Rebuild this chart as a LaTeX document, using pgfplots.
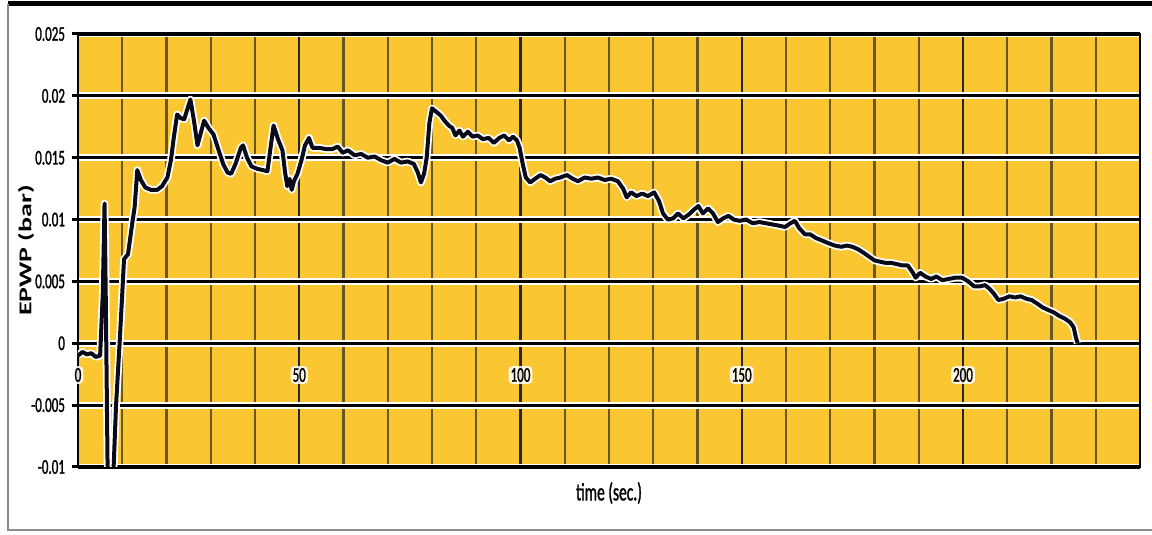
\documentclass[border=0pt]{standalone}
\usepackage{pgfplots}
\pgfplotsset{compat=1.18}
\usepackage{fontspec}
\setmainfont{Carlito}
\newfontfamily\narrow{Carlito}[FakeStretch=0.62, FakeBold=1.2]
\newfontfamily\ylab{Carlito}[FakeStretch=1.55]

\definecolor{yellowbg}{RGB}{250,198,50}
\definecolor{minorgrid}{RGB}{105,88,30}
\definecolor{majorvgrid}{RGB}{35,35,60}
\definecolor{dataline}{RGB}{10,10,25}

\pgfplotstableread{
t p
0 -0.0010
1 -0.0007
2 -0.0009
3 -0.0008
4 -0.0011
5 -0.0010
5.6 0.0040
6.0 0.0113
6.3 0.0030
6.7 -0.0105
8.0 -0.0105
8.6 -0.0050
9.4 0.0000
10.0 0.0040
10.4 0.0068
11.3 0.0072
11.8 0.0085
12.3 0.0098
12.8 0.0110
13.4 0.0140
14.2 0.0132
15.2 0.0126
16.5 0.0124
17.9 0.0124
19.0 0.0127
20.2 0.0134
21.0 0.0148
21.6 0.0165
22.4 0.0185
23.2 0.0182
24.0 0.0181
24.6 0.0188
25.4 0.0197
26.2 0.0180
27.0 0.0160
27.6 0.0168
28.5 0.0180
29.5 0.0174
30.6 0.0169
31.6 0.0158
32.8 0.0145
33.8 0.0138
34.6 0.0137
35.6 0.0145
36.8 0.0158
37.3 0.0160
38.2 0.0150
39.2 0.0143
40.5 0.0141
41.8 0.0140
42.8 0.0139
43.4 0.0155
44.2 0.0176
45.2 0.0165
46.2 0.0156
46.8 0.0138
47.3 0.0127
47.8 0.0133
48.3 0.0124
48.8 0.0131
49.6 0.0137
50.5 0.0148
51.3 0.0160
52.2 0.0166
53.0 0.0158
54.5 0.0158
56.0 0.0157
57.5 0.0157
58.7 0.0159
59.8 0.0154
61.0 0.0156
62.5 0.0152
64.0 0.0153
65.5 0.0150
67.0 0.0151
68.5 0.0148
70.0 0.0146
71.5 0.0149
73.0 0.0146
74.5 0.0147
75.9 0.0145
76.8 0.0138
77.5 0.0130
78.2 0.0137
78.8 0.0150
79.4 0.0178
80.0 0.0190
81.0 0.0187
82.0 0.0184
82.8 0.0180
83.8 0.0176
84.6 0.0174
85.3 0.0168
86.2 0.0172
87.0 0.0167
88.1 0.0171
89.2 0.0167
90.3 0.0168
91.5 0.0165
92.8 0.0166
94.0 0.0162
95.2 0.0166
96.3 0.0168
97.4 0.0164
98.3 0.0167
99.2 0.0164
99.8 0.0158
100.5 0.0145
101.2 0.0134
102.2 0.0130
103.3 0.0133
104.5 0.0136
105.6 0.0134
106.7 0.0131
107.8 0.0133
109.0 0.0134
110.5 0.0136
111.8 0.0133
113.0 0.0131
114.5 0.0134
116.0 0.0133
117.5 0.0134
119.0 0.0132
120.5 0.0133
122.0 0.0131
123.2 0.0125
124.0 0.0118
125.0 0.0122
126.2 0.0119
127.5 0.0121
128.8 0.0119
130.2 0.0122
131.3 0.0115
132.2 0.0105
133.3 0.0100
134.5 0.0101
135.6 0.0105
136.8 0.0101
138.0 0.0104
139.2 0.0108
140.2 0.0111
141.2 0.0105
142.4 0.0109
143.5 0.0105
144.6 0.0098
145.8 0.0101
147.0 0.0103
148.2 0.0100
149.5 0.0099
151.0 0.0100
152.5 0.0097
154.0 0.0098
155.5 0.0097
157.0 0.0096
158.5 0.0095
159.8 0.0094
161.0 0.0097
162.0 0.0099
163.0 0.0093
164.3 0.0088
165.5 0.0088
166.8 0.0085
168.2 0.0083
169.5 0.0081
171.0 0.0079
172.5 0.0078
173.8 0.0079
175.0 0.0078
176.3 0.0076
177.6 0.0073
178.8 0.0070
180.0 0.0067
181.2 0.0066
182.5 0.0065
183.8 0.0065
185.0 0.0064
186.3 0.0063
187.5 0.0063
188.5 0.0058
189.3 0.0053
190.3 0.0057
191.5 0.0054
192.8 0.0052
194.0 0.0054
195.3 0.0051
196.8 0.0052
198.2 0.0053
199.8 0.0053
201.2 0.0050
202.5 0.0046
203.8 0.0046
205.0 0.0047
206.0 0.0044
207.0 0.0040
208.0 0.0035
209.2 0.0036
210.5 0.0038
211.8 0.0037
213.0 0.0038
214.3 0.0036
215.5 0.0035
216.8 0.0032
218.0 0.0029
219.2 0.0027
220.5 0.0025
221.8 0.0022
223.0 0.0020
224.2 0.0017
225.0 0.0013
225.5 0.0005
225.9 0.0000
}\epwp

\begin{document}
\begin{tikzpicture}
\useasboundingbox (-39pt,-34pt) rectangle (537pt,233.5pt);
\begin{axis}[
  at={(0,0)}, anchor=south west,
  scale only axis, width=531pt, height=216.5pt,
  xmin=0, xmax=240, ymin=-0.01, ymax=0.025,
  xtick={0,50,100,150,200},
  xticklabels={0,50,100,150,200},
  minor xtick={10,20,30,40,60,70,80,90,110,120,130,140,160,170,180,190,210,220,230},
  ytick={-0.01,-0.005,0,0.005,0.01,0.015,0.02,0.025},
  yticklabels={-0.01,-0.005,0,0.005,0.01,0.015,0.02,0.025},
  scaled x ticks=false, scaled y ticks=false,
  xmajorgrids, xminorgrids, ymajorgrids,
  major x grid style={majorvgrid, line width=1.2pt},
  minor x grid style={minorgrid, line width=1.1pt},
  major y grid style={draw=white, double=black, double distance=1.6pt, line width=0.9pt},
  axis background/.style={fill=yellowbg},
  axis line style={black, line width=1.3pt},
  tick align=outside, major tick length=3pt, minor tick length=0pt,
  ytick pos=left, xtick style={draw=none},
  ytick style={black, line width=1.5pt},
  yticklabel style={font=\narrow\fontsize{10.5}{12}\selectfont},
  xticklabel style={font=\narrow\fontsize{10.5}{12}\selectfont, anchor=center, yshift=49pt,
    fill=white, fill opacity=0.85, text opacity=1, rounded corners=2pt, inner sep=1pt},
  xlabel={time (sec.)},
  xlabel style={font=\narrow\fontsize{12.5}{14}\selectfont, at={(rel axis cs:0.5,-0.06)}, anchor=center},
  ylabel={EPWP (bar)},
  ylabel style={font=\ylab\bfseries\fontsize{9}{11}\selectfont, at={(rel axis cs:-0.049,0.5)}, anchor=center},
]
\addplot[draw=white, double=dataline, double distance=2pt, line width=0.9pt, line join=round] table[x=t, y=p] {\epwp};
\end{axis}
\draw[line width=2.5pt, black] (-35pt,231.5pt) -- (537pt,231.5pt);
\draw[line width=0.8pt, black!45] (-35pt,231.5pt) -- (-35pt,-31.5pt) -- (537pt,-31.5pt);
\end{tikzpicture}
\end{document}
